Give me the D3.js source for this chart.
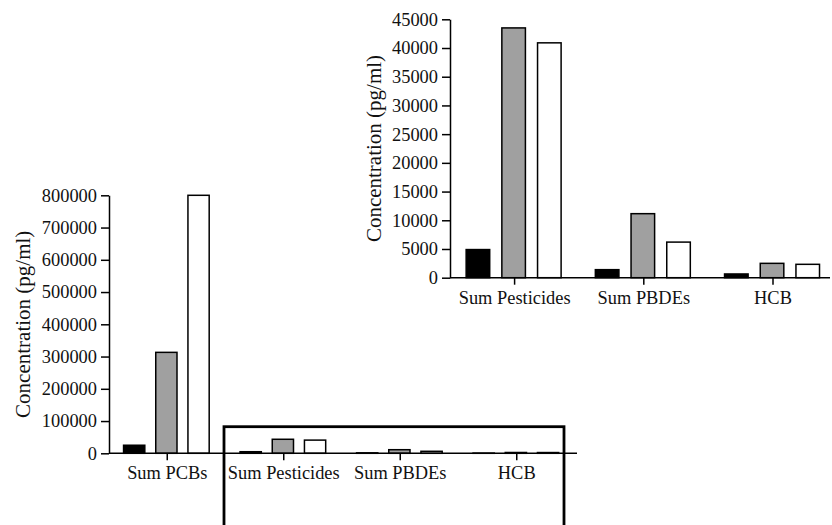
<!DOCTYPE html>
<html>
<head>
<meta charset="utf-8">
<script src="https://cdn.jsdelivr.net/npm/d3@7"></script>
<style>
  body { margin: 0; background: #fff; }
  svg { display: block; font-family: "Liberation Serif", "Times New Roman", serif; }
</style>
</head>
<body>
<script>
// values (pg/ml)
const categories = ["Sum PCBs", "Sum Pesticides", "Sum PBDEs", "HCB"]
const groups = ["g1", "g2", "g3"]
const g1Values = [25000, 4900, 1400, 650]      // black bars
const g2Values = [313000, 43500, 11150, 2500]  // grey bars
const g3Values = [800000, 40900, 6200, 2330]  // white bars
const mainTicks = [0, 100000, 200000, 300000, 400000, 500000, 600000, 700000, 800000]
const insetTicks = [0, 5000, 10000, 15000, 20000, 25000, 30000, 35000, 40000, 45000]
const yLabel = "Concentration (pg/ml)"

const fills = {g1: "#000", g2: "#a0a0a0", g3: "#fff"}
const rows = categories.map((c, i) => ({cat: c, g1: g1Values[i], g2: g2Values[i], g3: g3Values[i]}))

const width = 832, height = 525
const svg = d3.select("body").append("svg")
    .attr("width", width)
    .attr("height", height)
    .attr("viewBox", [0, 0, width, height])

// draws one bar panel
const panel = (data, box, ymax, ticks, titleX) => {
    const x = d3.scaleBand()
        .domain(data.map(d => d.cat))
        .range([box.left, box.right])
    const bw = x.bandwidth()
    const xs = d3.scaleBand()
        .domain(groups)
        .range([bw * 0.125, bw * 0.86])
        .paddingInner(0.34)
    const y = d3.scaleLinear()
        .domain([0, ymax])
        .range([box.bottom, box.top])

    const g = svg.append("g")

    g.append("g")
        .selectAll("g")
        .data(data)
        .join("g")
        .attr("transform", d => `translate(${x(d.cat)},0)`)
        .selectAll("rect")
        .data(d => groups.map(k => ({k, v: d[k]})))
        .join("rect")
        .attr("x", d => xs(d.k))
        .attr("y", d => y(d.v))
        .attr("width", xs.bandwidth())
        .attr("height", d => y(0) - y(d.v))
        .attr("fill", d => fills[d.k])
        .attr("stroke", "#000")
        .attr("stroke-width", 1.5)

    const ax = g.append("g")
        .attr("transform", `translate(0,${box.bottom})`)
        .call(d3.axisBottom(x).tickSize(7).tickPadding(6).tickSizeOuter(0))
    ax.select(".domain").remove()
    ax.append("line")
        .attr("x1", box.left).attr("x2", box.axisEnd)
        .attr("stroke", "#000").attr("stroke-width", 1.5)

    const ay = g.append("g")
        .attr("transform", `translate(${box.left},0)`)
        .call(d3.axisLeft(y).tickValues(ticks).tickFormat(d3.format("d")).tickSize(8).tickPadding(4).tickSizeOuter(0))

    for (const a of [ax, ay]) {
        a.selectAll("line").attr("stroke-width", 1.5)
        a.select(".domain").attr("stroke-width", 1.5)
        a.selectAll("text").attr("font-size", 18.4).attr("fill", "#111")
            .attr("font-family", "Liberation Serif, Times New Roman, serif")
    }

    g.append("text")
        .attr("transform", `translate(${titleX},${(box.top + box.bottom) / 2}) rotate(-90)`)
        .attr("text-anchor", "middle")
        .attr("font-size", 21)
        .attr("fill", "#111")
        .text(yLabel)
}

// main chart, all four groups
panel(rows, {left: 109, right: 575, top: 195.3, bottom: 453.3, axisEnd: 577}, 800000, mainTicks, 30)

// inset, without PCBs
panel(rows.slice(1), {left: 450, right: 837.6, top: 19.3, bottom: 277.7, axisEnd: 830}, 45000, insetTicks, 381)

// frame marking the zoomed region
svg.append("rect")
    .attr("x", 224)
    .attr("y", 426.7)
    .attr("width", 340)
    .attr("height", 130)
    .attr("fill", "none")
    .attr("stroke", "#000")
    .attr("stroke-width", 2.8)
</script>
</body>
</html>
